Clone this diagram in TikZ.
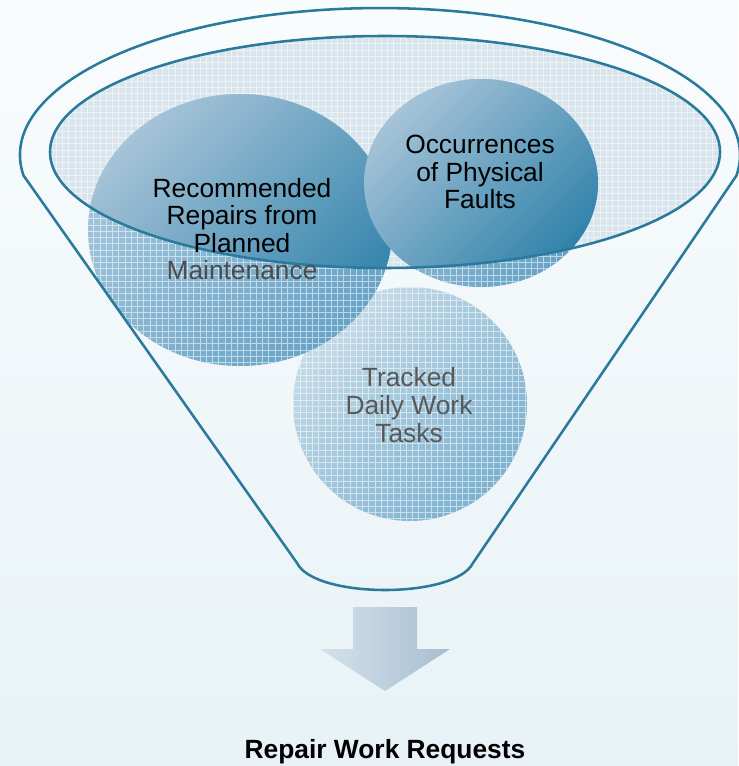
\documentclass[tikz,border=0pt]{standalone}
\usepackage{fontspec}
\setmainfont{Liberation Sans}
\usepackage{xcolor}
\usetikzlibrary{calc}

\definecolor{bgtop}{HTML}{F9FCFD}
\definecolor{bgbot}{HTML}{E8F2F6}
\definecolor{rimcol}{HTML}{2B7A9C}
\definecolor{rimfill}{HTML}{D9E5ED}
\definecolor{ballA}{HTML}{A6C3D8}
\definecolor{ballB}{HTML}{2F82AA}
\definecolor{paleA}{HTML}{A6C7DC}
\definecolor{paleB}{HTML}{67A3C6}
\definecolor{lowA}{HTML}{C6DBE8}
\definecolor{lowB}{HTML}{7CB1CF}
\definecolor{arrowA}{HTML}{D5E1EB}
\definecolor{arrowB}{HTML}{A7BED1}

\begin{document}
\begin{tikzpicture}[x=0.02cm,y=-0.02cm,
    rimline/.style={draw=rimcol,line width=1.45pt},
    hatch/.style={white,opacity=0.55,line width=0.35pt,step=0.125cm},
    solidball/.style={top color=ballA,bottom color=ballB,shading angle=45},
    paleball/.style={top color=paleA,bottom color=paleB,shading angle=45},
    lowball/.style={top color=lowA,bottom color=lowB,shading angle=45},
    balltext/.style={align=center,font=\fontsize{15}{15.7}\selectfont,inner sep=0pt}
  ]
    % Page and background
    \useasboundingbox (0,0) rectangle (738,766);
    \shade[top color=bgtop,bottom color=bgbot] (0,0) rectangle (738,766);

    % Hatched rim of the funnel
    \fill[rimfill] (385,152) ellipse [x radius=335, y radius=116];
    \begin{scope}
      \clip (385,152) ellipse [x radius=335, y radius=116];
      \draw[hatch] (0,0) grid (738,766);
    \end{scope}

    % Balls - hatched parts
    \path[lowball] (410,404) circle [radius=117];
    \path[paleball] (240,230) ellipse [x radius=152, y radius=136];
    \path[paleball] (481,183) ellipse [x radius=117, y radius=104];
    \begin{scope}
      \clip (410,404) circle [radius=117] (240,230) ellipse [x radius=152, y radius=136]
        (481,183) ellipse [x radius=117, y radius=104];
      \draw[hatch] (0,0) grid (738,766);
    \end{scope}

    % Balls - solid parts inside the rim
    \begin{scope}
      \clip (385,152) ellipse [x radius=335, y radius=116];
      \path[solidball] (240,230) ellipse [x radius=152, y radius=136];
      \path[solidball] (481,183) ellipse [x radius=117, y radius=104];
    \end{scope}
    \draw[rimline] (385,152) ellipse [x radius=335, y radius=116];

    % Funnel outline
    \draw[rimline] (23.5,175.5) arc [start angle=172, end angle=368, x radius=360, y radius=147]
      -- (473,563) .. controls (455,599) and (315,599) .. (297,563) -- cycle;

    % Ball labels
    \node[balltext] (rep) at (242,229) {Recommended\\Repairs from\\Planned\\\textcolor{black!70}{Maintenance}};
    \node[balltext] (occ) at (480,172) {Occurrences\\of Physical\\Faults};
    \node[balltext,text=black!65] (trk) at (409,405) {Tracked\\Daily Work\\Tasks};

    % Output arrow and result
    \shade[left color=arrowA,right color=arrowB] (353,607) -- (417,607) -- (417,649) -- (450,649)
      -- (385,691) -- (320,649) -- (353,649) -- cycle;
    \node[font=\bfseries\fontsize{15}{18}\selectfont] (req) at (385,752) {Repair Work Requests};
  \end{tikzpicture}
\end{document}
